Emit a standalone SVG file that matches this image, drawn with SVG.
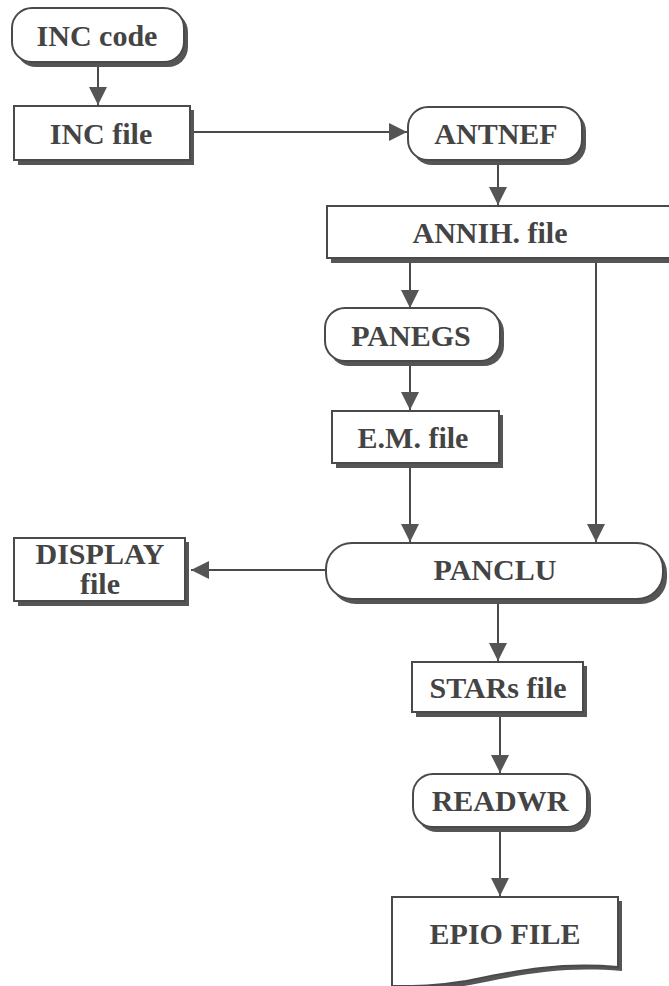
<svg xmlns="http://www.w3.org/2000/svg" width="669" height="986" viewBox="0 0 669 986">
<defs>
<style>
.box{fill:#fff;stroke:#4a4a4a;stroke-width:2}
.sh{fill:#555}
.lbl{font-weight:bold;font-size:30px;fill:#444;text-anchor:middle}
.con{stroke:#4a4a4a;stroke-width:2;fill:none}
</style>
<marker id="ah2" viewBox="0 0 10 10" refX="10" refY="5" markerWidth="18" markerHeight="18" markerUnits="userSpaceOnUse" orient="auto">
<path d="M0,0 L10,5 L0,10 Z" fill="#555"/>
</marker>
</defs>
<rect width="669" height="986" fill="#fff"/>
<g id="connectors">
<line class="con" x1="98" y1="63" x2="98" y2="105" marker-end="url(#ah2)"/>
<line class="con" x1="192" y1="132" x2="407" y2="132" marker-end="url(#ah2)"/>
<line class="con" x1="498" y1="162" x2="498" y2="205" marker-end="url(#ah2)"/>
<line class="con" x1="410" y1="260" x2="410" y2="308" marker-end="url(#ah2)"/>
<line class="con" x1="596" y1="260" x2="596" y2="542" marker-end="url(#ah2)"/>
<line class="con" x1="410" y1="364" x2="410" y2="410" marker-end="url(#ah2)"/>
<line class="con" x1="410" y1="464" x2="410" y2="542" marker-end="url(#ah2)"/>
<line class="con" x1="326" y1="570" x2="191" y2="570" marker-end="url(#ah2)"/>
<line class="con" x1="498" y1="601" x2="498" y2="661" marker-end="url(#ah2)"/>
<line class="con" x1="500" y1="714" x2="500" y2="773" marker-end="url(#ah2)"/>
<line class="con" x1="500" y1="829" x2="500" y2="896" marker-end="url(#ah2)"/>
</g>
<g font-family="Liberation Serif, Times New Roman, serif">
<g id="inc-code">
<rect class="sh" x="16" y="12" width="172" height="55" rx="20"/>
<rect class="box" x="12" y="8" width="172" height="54" rx="20"/>
<text class="lbl" x="97" y="46">INC code</text>
</g>
<g id="inc-file">
<rect class="sh" x="18" y="110" width="176" height="55"/>
<rect class="box" x="14" y="106" width="176" height="54"/>
<text class="lbl" x="101" y="144">INC file</text>
</g>
<g id="antnef">
<rect class="sh" x="412" y="111" width="174" height="54" rx="20"/>
<rect class="box" x="408" y="107" width="174" height="53" rx="20"/>
<text class="lbl" x="496" y="144">ANTNEF</text>
</g>
<g id="annih-file">
<rect class="sh" x="331" y="210" width="345" height="53"/>
<rect class="box" x="327" y="206" width="345" height="52"/>
<text class="lbl" x="490" y="243">ANNIH. file</text>
</g>
<g id="panegs">
<rect class="sh" x="329" y="312" width="175" height="54" rx="20"/>
<rect class="box" x="325" y="308" width="175" height="53" rx="20"/>
<text class="lbl" x="411" y="346">PANEGS</text>
</g>
<g id="em-file">
<rect class="sh" x="336" y="415" width="167" height="53"/>
<rect class="box" x="332" y="411" width="167" height="52"/>
<text class="lbl" x="413" y="448">E.M. file</text>
</g>
<g id="panclu">
<rect class="sh" x="330" y="547" width="337" height="57" rx="26"/>
<rect class="box" x="326" y="543" width="337" height="56" rx="26"/>
<text class="lbl" x="495" y="580">PANCLU</text>
</g>
<g id="display-file">
<rect class="sh" x="18" y="542" width="171" height="64"/>
<rect class="box" x="14" y="538" width="171" height="63"/>
<text class="lbl" x="100" y="564">DISPLAY</text>
<text class="lbl" x="100" y="594">file</text>
</g>
<g id="stars-file">
<rect class="sh" x="416" y="666" width="171" height="51"/>
<rect class="box" x="412" y="662" width="171" height="50"/>
<text class="lbl" x="498" y="698">STARs file</text>
</g>
<g id="readwr">
<rect class="sh" x="417" y="778" width="174" height="54" rx="20"/>
<rect class="box" x="413" y="774" width="174" height="53" rx="20"/>
<text class="lbl" x="500" y="811">READWR</text>
</g>
<g id="epio-file">
<path class="sh" d="M396,901 H622 V971 C560,966 520,975 470,985 C440,990 420,990 396,990 Z"/>
<path class="box" d="M392,897 H618 V967 C556,962 516,971 466,981 C436,986 416,986 392,986 Z"/>
<text class="lbl" x="505" y="944">EPIO FILE</text>
</g>
</g>
</svg>
